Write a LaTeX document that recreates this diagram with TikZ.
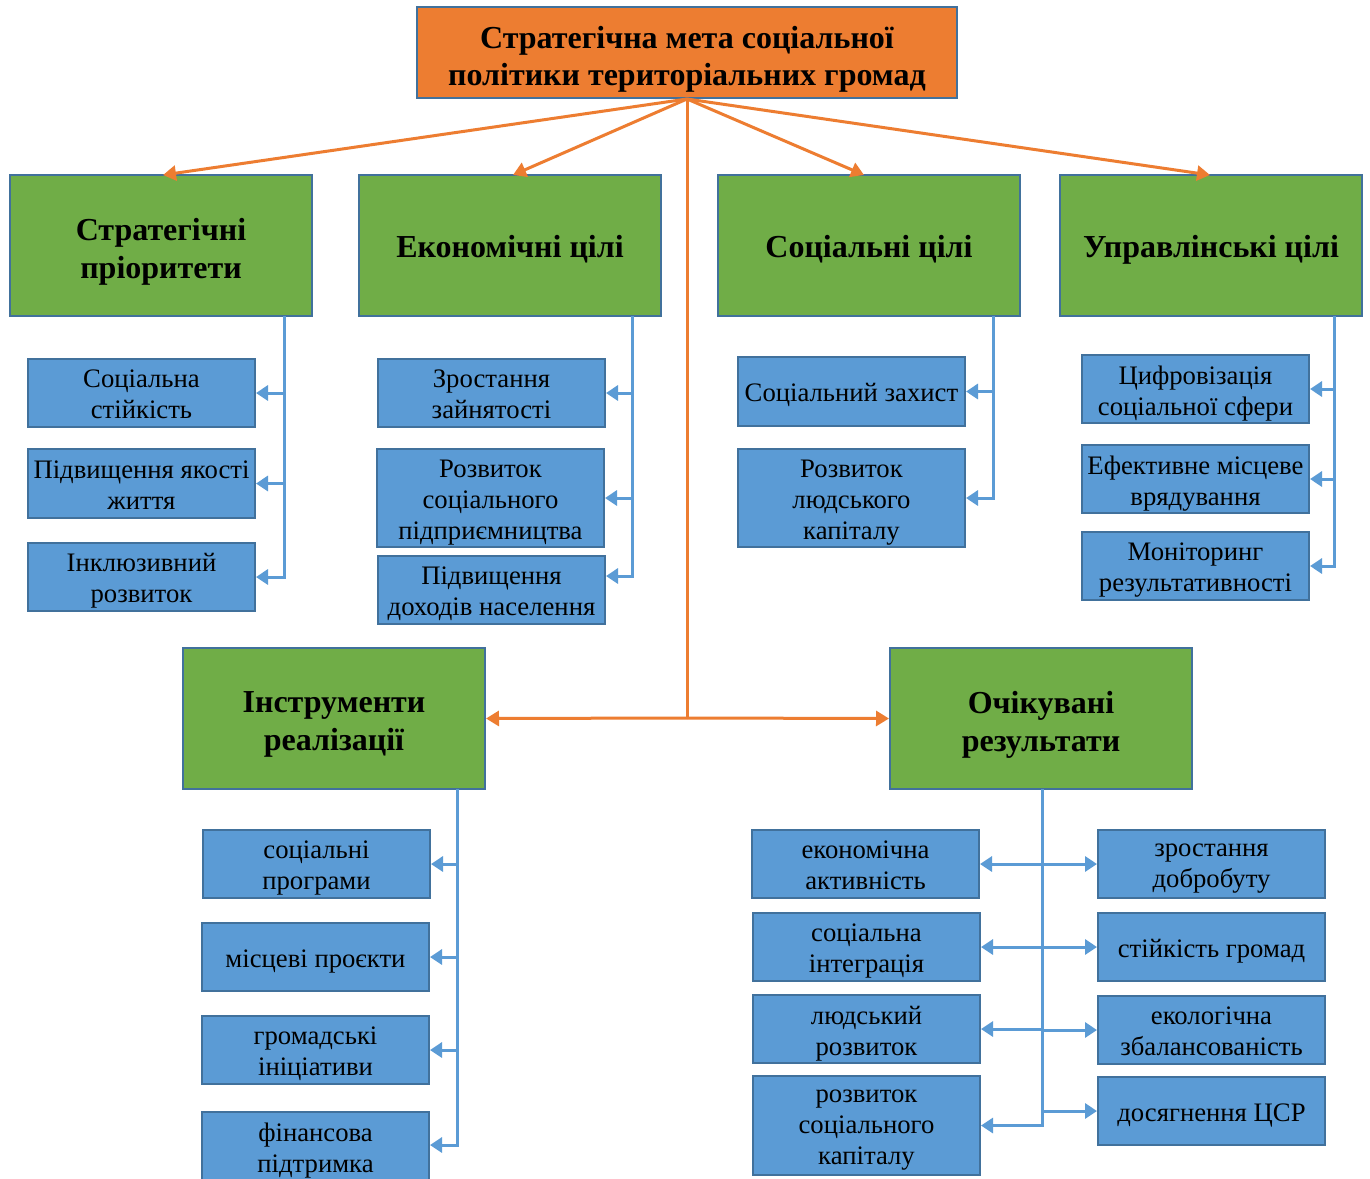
\documentclass[tikz,border=0pt]{standalone}
\usepackage{fontspec}
\setmainfont{Liberation Serif}
\usetikzlibrary{arrows.meta}
\definecolor{goalorange}{HTML}{ED7D31}
\definecolor{groupgreen}{HTML}{70AD47}
\definecolor{itemblue}{HTML}{5B9BD5}
\definecolor{edgeblue}{HTML}{41719C}
\tikzset{
  struts/.style={execute at begin node=\strut, execute at end node=\strut},
  goalbox/.style={draw=edgeblue, line width=2pt, fill=goalorange, inner sep=0pt},
  goaltext/.style={align=center, inner sep=0pt, struts, font=\fontsize{32}{37}\selectfont\bfseries},
  groupbox/.style={draw=edgeblue, line width=2pt, fill=groupgreen, inner sep=0pt},
  grouptext/.style={align=center, inner sep=0pt, struts, font=\fontsize{32}{38}\selectfont\bfseries},
  itembox/.style={draw=edgeblue, line width=2pt, fill=itemblue, inner sep=0pt},
  itemtext/.style={align=center, inner sep=0pt, struts, font=\fontsize{26.7}{31}\selectfont},
  oline/.style={draw=goalorange, line width=3pt, -{Triangle[length=13pt,width=15pt]}},
  bline/.style={draw=itemblue, line width=3pt, -{Triangle[length=12pt,width=15pt]}},
}
% \bx{name}{kind}{x1}{y1}{x2}{y2}{text shift}{text}
\newcommand{\bx}[8]{%
  \node[#2box, minimum width={#5-#3}, minimum height={#6-#4}] (#1) at ({(#3+#5)/2},{(#4+#6)/2}) {};
  \node[#2text] (#1-t) at ([yshift=-#7pt]#1.center) {#8};}
\begin{document}
\begin{tikzpicture}[x=1pt,y=-1pt]
\clip (0,0) rectangle (1370,1178);
\fill[white] (0,0) rectangle (1370,1178);

% top goal
\bx{goal}{goal}{417}{7}{957}{98}{8.5}{Стратегічна мета соціальної\\політики територіальних громад}

% groups
\bx{sp}{group}{10}{175}{312}{316}{8.5}{Стратегічні\\пріоритети}
\bx{ec}{group}{359}{175}{661}{316}{4.5}{Економічні цілі}
\bx{so}{group}{718}{175}{1020}{316}{4.5}{Соціальні цілі}
\bx{up}{group}{1060}{175}{1362}{316}{4.5}{Управлінські цілі}
\bx{ir}{group}{183}{648}{485}{789}{8.5}{Інструменти\\реалізації}
\bx{or}{group}{890}{648}{1192}{789}{8.5}{Очікувані\\результати}

% strategic priorities
\bx{sp1}{item}{28}{359}{255}{427}{6}{Соціальна\\стійкість}
\bx{sp2}{item}{28}{449}{255}{518}{6}{Підвищення якості\\життя}
\bx{sp3}{item}{28}{543}{255}{611}{6}{Інклюзивний\\розвиток}

% economic goals
\bx{ec1}{item}{378}{359}{605}{427}{6}{Зростання\\зайнятості}
\bx{ec2}{item}{377}{449}{604}{547}{6}{Розвиток\\соціального\\підприємництва}
\bx{ec3}{item}{378}{556}{605}{624}{6}{Підвищення\\доходів населення}

% social goals
\bx{so1}{item}{738}{357}{965}{426}{4}{Соціальний захист}
\bx{so2}{item}{738}{449}{965}{547}{6}{Розвиток\\людського\\капіталу}

% governance goals
\bx{up1}{item}{1082}{355}{1309}{423}{6}{Цифровізація\\соціальної сфери}
\bx{up2}{item}{1082}{445}{1309}{513}{6}{Ефективне місцеве\\врядування}
\bx{up3}{item}{1082}{532}{1309}{600}{6}{Моніторинг\\результативності}

% implementation tools
\bx{ir1}{item}{203}{830}{430}{898}{6}{соціальні\\програми}
\bx{ir2}{item}{202}{923}{429}{991}{4}{місцеві проєкти}
\bx{ir3}{item}{202}{1016}{429}{1084}{6}{громадські\\ініціативи}
\bx{ir4}{item}{202}{1112}{429}{1180}{6}{фінансова\\підтримка}

% expected results
\bx{orl1}{item}{752}{830}{979}{898}{6}{економічна\\активність}
\bx{orl2}{item}{753}{913}{980}{981}{6}{соціальна\\інтеграція}
\bx{orl3}{item}{753}{995}{980}{1063}{6}{людський\\розвиток}
\bx{orl4}{item}{753}{1076}{980}{1175}{6}{розвиток\\соціального\\капіталу}
\bx{orr1}{item}{1098}{830}{1325}{898}{6}{зростання\\добробуту}
\bx{orr2}{item}{1098}{913}{1325}{981}{4}{стійкість громад}
\bx{orr3}{item}{1098}{996}{1325}{1064}{6}{екологічна\\збалансованість}
\bx{orr4}{item}{1098}{1077}{1325}{1145}{4}{досягнення ЦСР}

% orange links from the goal
\coordinate (hub) at (687,718);
\draw[oline] (goal.south) -- (163,175) coordinate (spt);
\draw[oline] (goal.south) -- (513,175) coordinate (ect);
\draw[oline] (goal.south) -- (864,175) coordinate (sot);
\draw[oline] (goal.south) -- (1210,175) coordinate (upt);
\draw[goalorange, line width=3pt] (goal.south) -- (hub);
\draw[oline] (hub) -- (ir.east);
\draw[oline] (hub) -- (or.west);

% blue branches
\coordinate (spv) at (284,316);
\draw[bline] (spv) |- (sp3.east);
\draw[bline] (sp1.east -| spv) -- (sp1.east);
\draw[bline] (sp2.east -| spv) -- (sp2.east);

\coordinate (ecv) at (632,316);
\draw[bline] (ecv) |- ([yshift=14pt]ec3.east);
\draw[bline] (ec1.east -| ecv) -- (ec1.east);
\draw[bline] (ec2.east -| ecv) -- (ec2.east);

\coordinate (sov) at (993,316);
\draw[bline] (sov) |- (so2.east);
\draw[bline] (so1.east -| sov) -- (so1.east);

\coordinate (upv) at (1334,316);
\draw[bline] (upv) |- (up3.east);
\draw[bline] (up1.east -| upv) -- (up1.east);
\draw[bline] (up2.east -| upv) -- (up2.east);

\coordinate (irv) at (457,789);
\draw[bline] (irv) |- ([yshift=1pt]ir4.east);
\draw[bline] (ir1.east -| irv) -- (ir1.east);
\draw[bline] (ir2.east -| irv) -- (ir2.east);
\draw[bline] (ir3.east -| irv) -- (ir3.east);

\coordinate (orv) at (1042,789);
\draw[bline] (orv) |- (orl4.east);
\draw[bline] (orl1.east -| orv) -- (orl1.east);
\draw[bline] (orl2.east -| orv) -- (orl2.east);
\draw[bline] (orl3.east -| orv) -- (orl3.east);
\draw[bline] (orr1.west -| orv) -- (orr1.west);
\draw[bline] (orr2.west -| orv) -- (orr2.west);
\draw[bline] (orr3.west -| orv) -- (orr3.west);
\draw[bline] (orr4.west -| orv) -- (orr4.west);
\end{tikzpicture}
\end{document}
